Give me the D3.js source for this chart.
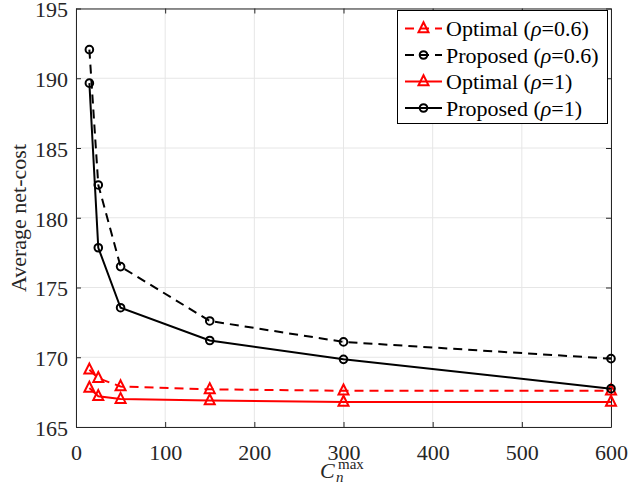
<!DOCTYPE html>
<html>
<head>
<meta charset="utf-8">
<script src="https://cdn.jsdelivr.net/npm/d3@7"></script>
<style>
  html, body { margin: 0; padding: 0; background: #fff; }
  svg { display: block; }
  text { font-family: "Liberation Serif", "Times New Roman", serif; }
</style>
</head>
<body>
<svg id="chart" width="628" height="493"></svg>
<script>
// ---- data ----
const xValues = [15, 25, 50, 150, 300, 600];
const optimalRho06 = [169.1, 168.5, 167.9, 167.7, 167.6, 167.6];
const proposedRho06 = [192.05, 182.35, 176.5, 172.6, 171.1, 169.9];
const optimalRho1 = [167.8, 167.2, 167.0, 166.9, 166.8, 166.8];
const proposedRho1 = [189.65, 177.85, 173.55, 171.2, 169.85, 167.75];
const xTicks = [0, 100, 200, 300, 400, 500, 600];
const yTicks = [165, 170, 175, 180, 185, 190, 195];
const seriesLabels = ["Optimal", "Proposed", "Optimal", "Proposed"];
const rhoValues = ["0.6", "0.6", "1", "1"];

const series = [
  { label: seriesLabels[0], rho: rhoValues[0], values: optimalRho06, color: "#ff0000", dash: "9,6", marker: "tri" },
  { label: seriesLabels[1], rho: rhoValues[1], values: proposedRho06, color: "#000000", dash: "9,6", marker: "circ" },
  { label: seriesLabels[2], rho: rhoValues[2], values: optimalRho1, color: "#ff0000", dash: null, marker: "tri" },
  { label: seriesLabels[3], rho: rhoValues[3], values: proposedRho1, color: "#000000", dash: null, marker: "circ" }
];

const svg = d3.select("#chart");
const L = 76, R = 611, T = 8.5, B = 427;
const x = d3.scaleLinear().domain([0, 600]).range([L, R]);
const y = d3.scaleLinear().domain([165, 195]).range([B, T]);
const axisColor = "#262626";

// grid
svg.append("g").selectAll("line").data(xTicks).join("line")
  .attr("x1", d => x(d)).attr("x2", d => x(d)).attr("y1", T).attr("y2", B)
  .attr("stroke", "#e6e6e6").attr("stroke-width", 1);
svg.append("g").selectAll("line").data(yTicks).join("line")
  .attr("x1", L).attr("x2", R).attr("y1", d => y(d)).attr("y2", d => y(d))
  .attr("stroke", "#e6e6e6").attr("stroke-width", 1);

// axes
const fs = 22;
const xAxis = d3.axisBottom(x).tickValues(xTicks).tickSizeInner(-5).tickSizeOuter(0).tickPadding(17);
const yAxis = d3.axisLeft(y).tickValues(yTicks).tickSizeInner(-5).tickSizeOuter(0).tickPadding(8);
const gx = svg.append("g").attr("transform", `translate(0,${B})`).call(xAxis);
const gy = svg.append("g").attr("transform", `translate(${L},0)`).call(yAxis);
const gxTop = svg.append("g").attr("transform", `translate(0,${T})`).call(d3.axisTop(x).tickValues(xTicks).tickSizeInner(-5).tickSizeOuter(0).tickFormat(""));
const gyRight = svg.append("g").attr("transform", `translate(${R},0)`).call(d3.axisRight(y).tickValues(yTicks).tickSizeInner(-5).tickSizeOuter(0).tickFormat(""));
[gx, gy, gxTop, gyRight].forEach(g => {
  g.select(".domain").attr("stroke", axisColor).attr("stroke-width", 1);
  g.selectAll(".tick line").attr("stroke", axisColor);
  g.selectAll(".tick text").attr("fill", axisColor).style("font-size", fs + "px")
    .style("font-family", '"Liberation Serif", serif');
});
gy.selectAll(".tick text").attr("dy", "0.38em");

// lines & markers
const line = d3.line().x((d, i) => x(xValues[i])).y(d => y(d));
const triPath = (cx, cy, s) => `M${cx},${cy - s * 0.62}L${cx + s / 2},${cy + s * 0.38}L${cx - s / 2},${cy + s * 0.38}Z`;

function drawMarker(g, m, cx, cy, color) {
  if (m === "tri") {
    g.append("path").attr("d", triPath(cx, cy, 10)).attr("fill", "none")
      .attr("stroke", color).attr("stroke-width", 2);
  } else {
    g.append("circle").attr("cx", cx).attr("cy", cy).attr("r", 3.8)
      .attr("fill", "none").attr("stroke", color).attr("stroke-width", 2);
  }
}

const plot = svg.append("g");
series.forEach(s => {
  plot.append("path").datum(s.values).attr("d", line)
    .attr("fill", "none").attr("stroke", s.color).attr("stroke-width", 2)
    .attr("stroke-dasharray", s.dash);
  s.values.forEach((v, i) => drawMarker(plot, s.marker, x(xValues[i]), y(v), s.color));
});

// legend
const lg = svg.append("g");
lg.append("rect").attr("x", 397.5).attr("y", 10.5).attr("width", 210).attr("height", 113)
  .attr("fill", "#fff").attr("stroke", "#000").attr("stroke-width", 1);
const rowY = [28.5, 55, 81.5, 108];
series.forEach((s, i) => {
  const cy = rowY[i];
  lg.append("line").attr("x1", 405).attr("x2", 442).attr("y1", cy).attr("y2", cy)
    .attr("stroke", s.color).attr("stroke-width", 2).attr("stroke-dasharray", s.dash);
  drawMarker(lg, s.marker, 423.5, cy, s.color);
  const t = lg.append("text").attr("x", 446).attr("y", cy).attr("dy", "0.35em")
    .style("font-size", fs + "px").attr("fill", "#000");
  t.append("tspan").text(s.label + " (");
  t.append("tspan").style("font-style", "italic").text("\u03C1");
  t.append("tspan").text("=" + s.rho + ")");
});

// y label
svg.append("text").attr("transform", "translate(26,218) rotate(-90)")
  .attr("text-anchor", "middle").style("font-size", fs + "px").attr("fill", axisColor)
  .text("Average net-cost");

// x label
const xl = svg.append("text").attr("x", 320).attr("y", 478).attr("fill", axisColor);
xl.append("tspan").style("font-style", "italic").style("font-size", fs + "px").text("C");
xl.append("tspan").attr("x", 336).attr("y", 482).style("font-style", "italic").style("font-size", "15px").text("n");
svg.append("text").attr("x", 338).attr("y", 469).attr("fill", axisColor).style("font-size", "15px").text("max");
</script>
</body>
</html>
